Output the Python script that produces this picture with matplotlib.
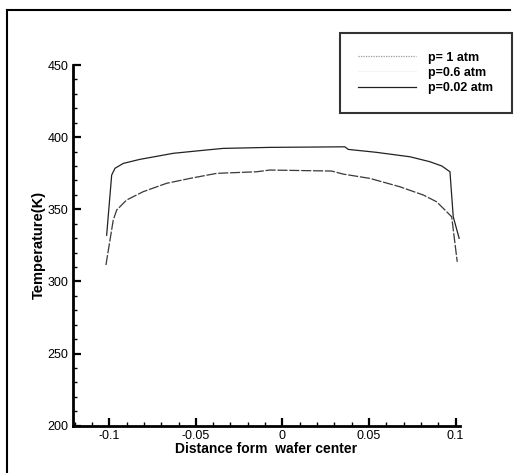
import matplotlib
matplotlib.use('Agg')
import matplotlib.pyplot as plt
from matplotlib.lines import Line2D
from matplotlib.ticker import MultipleLocator
import numpy as np

plt.rcParams['font.family'] = ['Liberation Sans', 'DejaVu Sans']

# p=0.02 atm (upper curve)
x_002 = [-0.1015, -0.0986, -0.0967, -0.0919, -0.0823, -0.063, -0.0438, -0.0342, -0.0072,
         0.036, 0.038, 0.054, 0.0736, 0.085, 0.092, 0.0967, 0.0986, 0.102]
T_002 = [332, 373.7, 378.4, 381.8, 384.6, 388.8, 391.1, 392.2, 392.9,
         393.3, 391.5, 389.5, 386.4, 383, 380, 376, 344.8, 329.9]

# p=1 atm (lower curve)
x_1 = [-0.1019, -0.0977, -0.0957, -0.09, -0.0804, -0.0669, -0.0534, -0.038, -0.0149, -0.0072,
       0.0284, 0.035, 0.0505, 0.0678, 0.0813, 0.089, 0.0928, 0.0977, 0.1009]
T_1 = [311.4, 342.5, 349.5, 356.4, 362.2, 368, 371.4, 374.9, 376, 377.2,
       376.5, 374.4, 371.4, 365.6, 359.9, 355.2, 350.7, 344.8, 313.6]

# p=0.6 atm drawn almost white, lies under the p=1 curve
x_06 = x_1
T_06 = T_1

labels = ['p= 1 atm', 'p=0.6 atm', 'p=0.02 atm']

W, H = 516, 473
fig = plt.figure(figsize=(W / 100, H / 100), dpi=100)
ax = fig.add_axes([72.7 / W, 1 - 425.7 / H, (460 - 72.7) / W, (425.7 - 65) / H])

ax.plot(x_06, T_06, color='#f4f4f4', lw=0.8, zorder=1, label=labels[1])
ax.plot(x_1, T_1, color='#3a3a3a', lw=0.9, ls=(0, (8, 1.5)), zorder=2, label=labels[0])
ax.plot(x_002, T_002, color='#222222', lw=0.9, zorder=3, label=labels[2])

ax.set_xlim(-0.1211, 0.1025)
ax.set_ylim(200, 450)
ax.xaxis.set_major_locator(MultipleLocator(0.05))
ax.xaxis.set_minor_locator(MultipleLocator(0.01))
ax.yaxis.set_major_locator(MultipleLocator(50))
ax.yaxis.set_minor_locator(MultipleLocator(10))
ax.set_xticks([-0.1, -0.05, 0, 0.05, 0.1])
ax.set_xticklabels(['-0.1', '-0.05', '0', '0.05', '0.1'])

for s in ['top', 'right']:
    ax.spines[s].set_visible(False)
for s in ['left', 'bottom']:
    ax.spines[s].set_linewidth(2)
ax.tick_params(which='major', direction='in', length=6, width=1.6, labelsize=9, pad=3)
ax.tick_params(which='minor', direction='in', length=3, width=1)

ax.set_xlabel('Distance form  wafer center', fontsize=10, fontweight='bold', labelpad=0)
ax.set_ylabel('Temperature(K)', fontsize=10.5, fontweight='bold', labelpad=1)

handles, lbls = ax.get_legend_handles_labels()
order = [labels.index(l) for l in lbls]
hl = sorted(zip(order, handles, lbls))
leg = ax.legend([h for _, h, _ in hl], [l for _, _, l in hl],
                loc='upper right', bbox_to_anchor=(512 / W, 1 - 33 / H),
                bbox_transform=fig.transFigure, borderaxespad=0, frameon=True,
                fancybox=False, edgecolor='black', handlelength=4.6, borderpad=1.5,
                handletextpad=1.0, labelspacing=0.25, prop={'size': 9, 'weight': 'bold'})
leg.get_frame().set_linewidth(1.5)
# legend handle for p=1 atm looks dotted light grey in the original
leg.get_lines()[0].set_color('#999999')
leg.get_lines()[0].set_linestyle((0, (1, 1)))

# outer frame
fig.add_artist(Line2D([7 / W, 7 / W], [0, 1 - 10 / H], color='black', lw=1.5,
                      transform=fig.transFigure))
fig.add_artist(Line2D([7 / W, 510 / W], [1 - 10 / H, 1 - 10 / H], color='black', lw=1.5,
                      transform=fig.transFigure))

fig.savefig('out.png', dpi=100)
